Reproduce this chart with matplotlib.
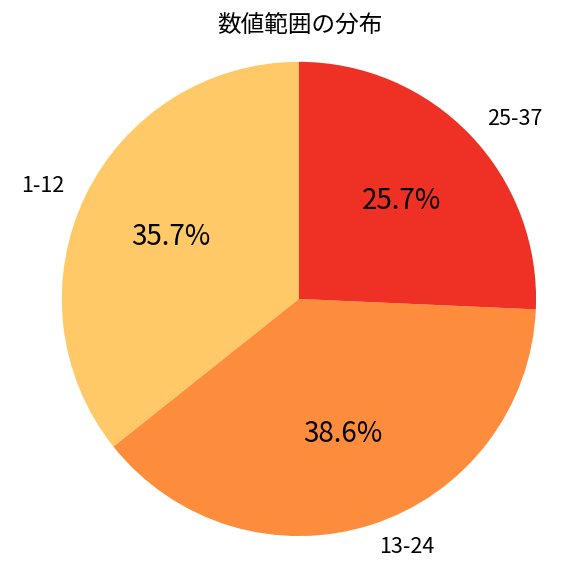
import matplotlib.pyplot as plt

plt.rcParams['font.family'] = ['Noto Sans CJK JP', 'DejaVu Sans']

# data
labels = ['1-12', '13-24', '25-37']
shares = [35.7, 38.6, 25.7]
colors = ['#FEC966', '#FD8D3C', '#EE3124']

fig = plt.figure(figsize=(5.76, 5.76), dpi=100)
ax = fig.add_axes([0.025, 0.481 - 0.494, 0.988, 0.988])
wedges, texts, autotexts = ax.pie(shares, labels=labels, colors=colors,
                                  autopct='%1.1f%%', startangle=90,
                                  textprops={'fontsize': 15.5})
for t in autotexts:
    t.set_fontsize(20)
ax.set_xlim(-1.2, 1.2)
ax.set_ylim(-1.2, 1.2)
ax.set_aspect('equal')
fig.text(0.521, 0.955, '数値範囲の分布', ha='center', va='center', fontsize=17)

fig.savefig('out.png', dpi=100)
